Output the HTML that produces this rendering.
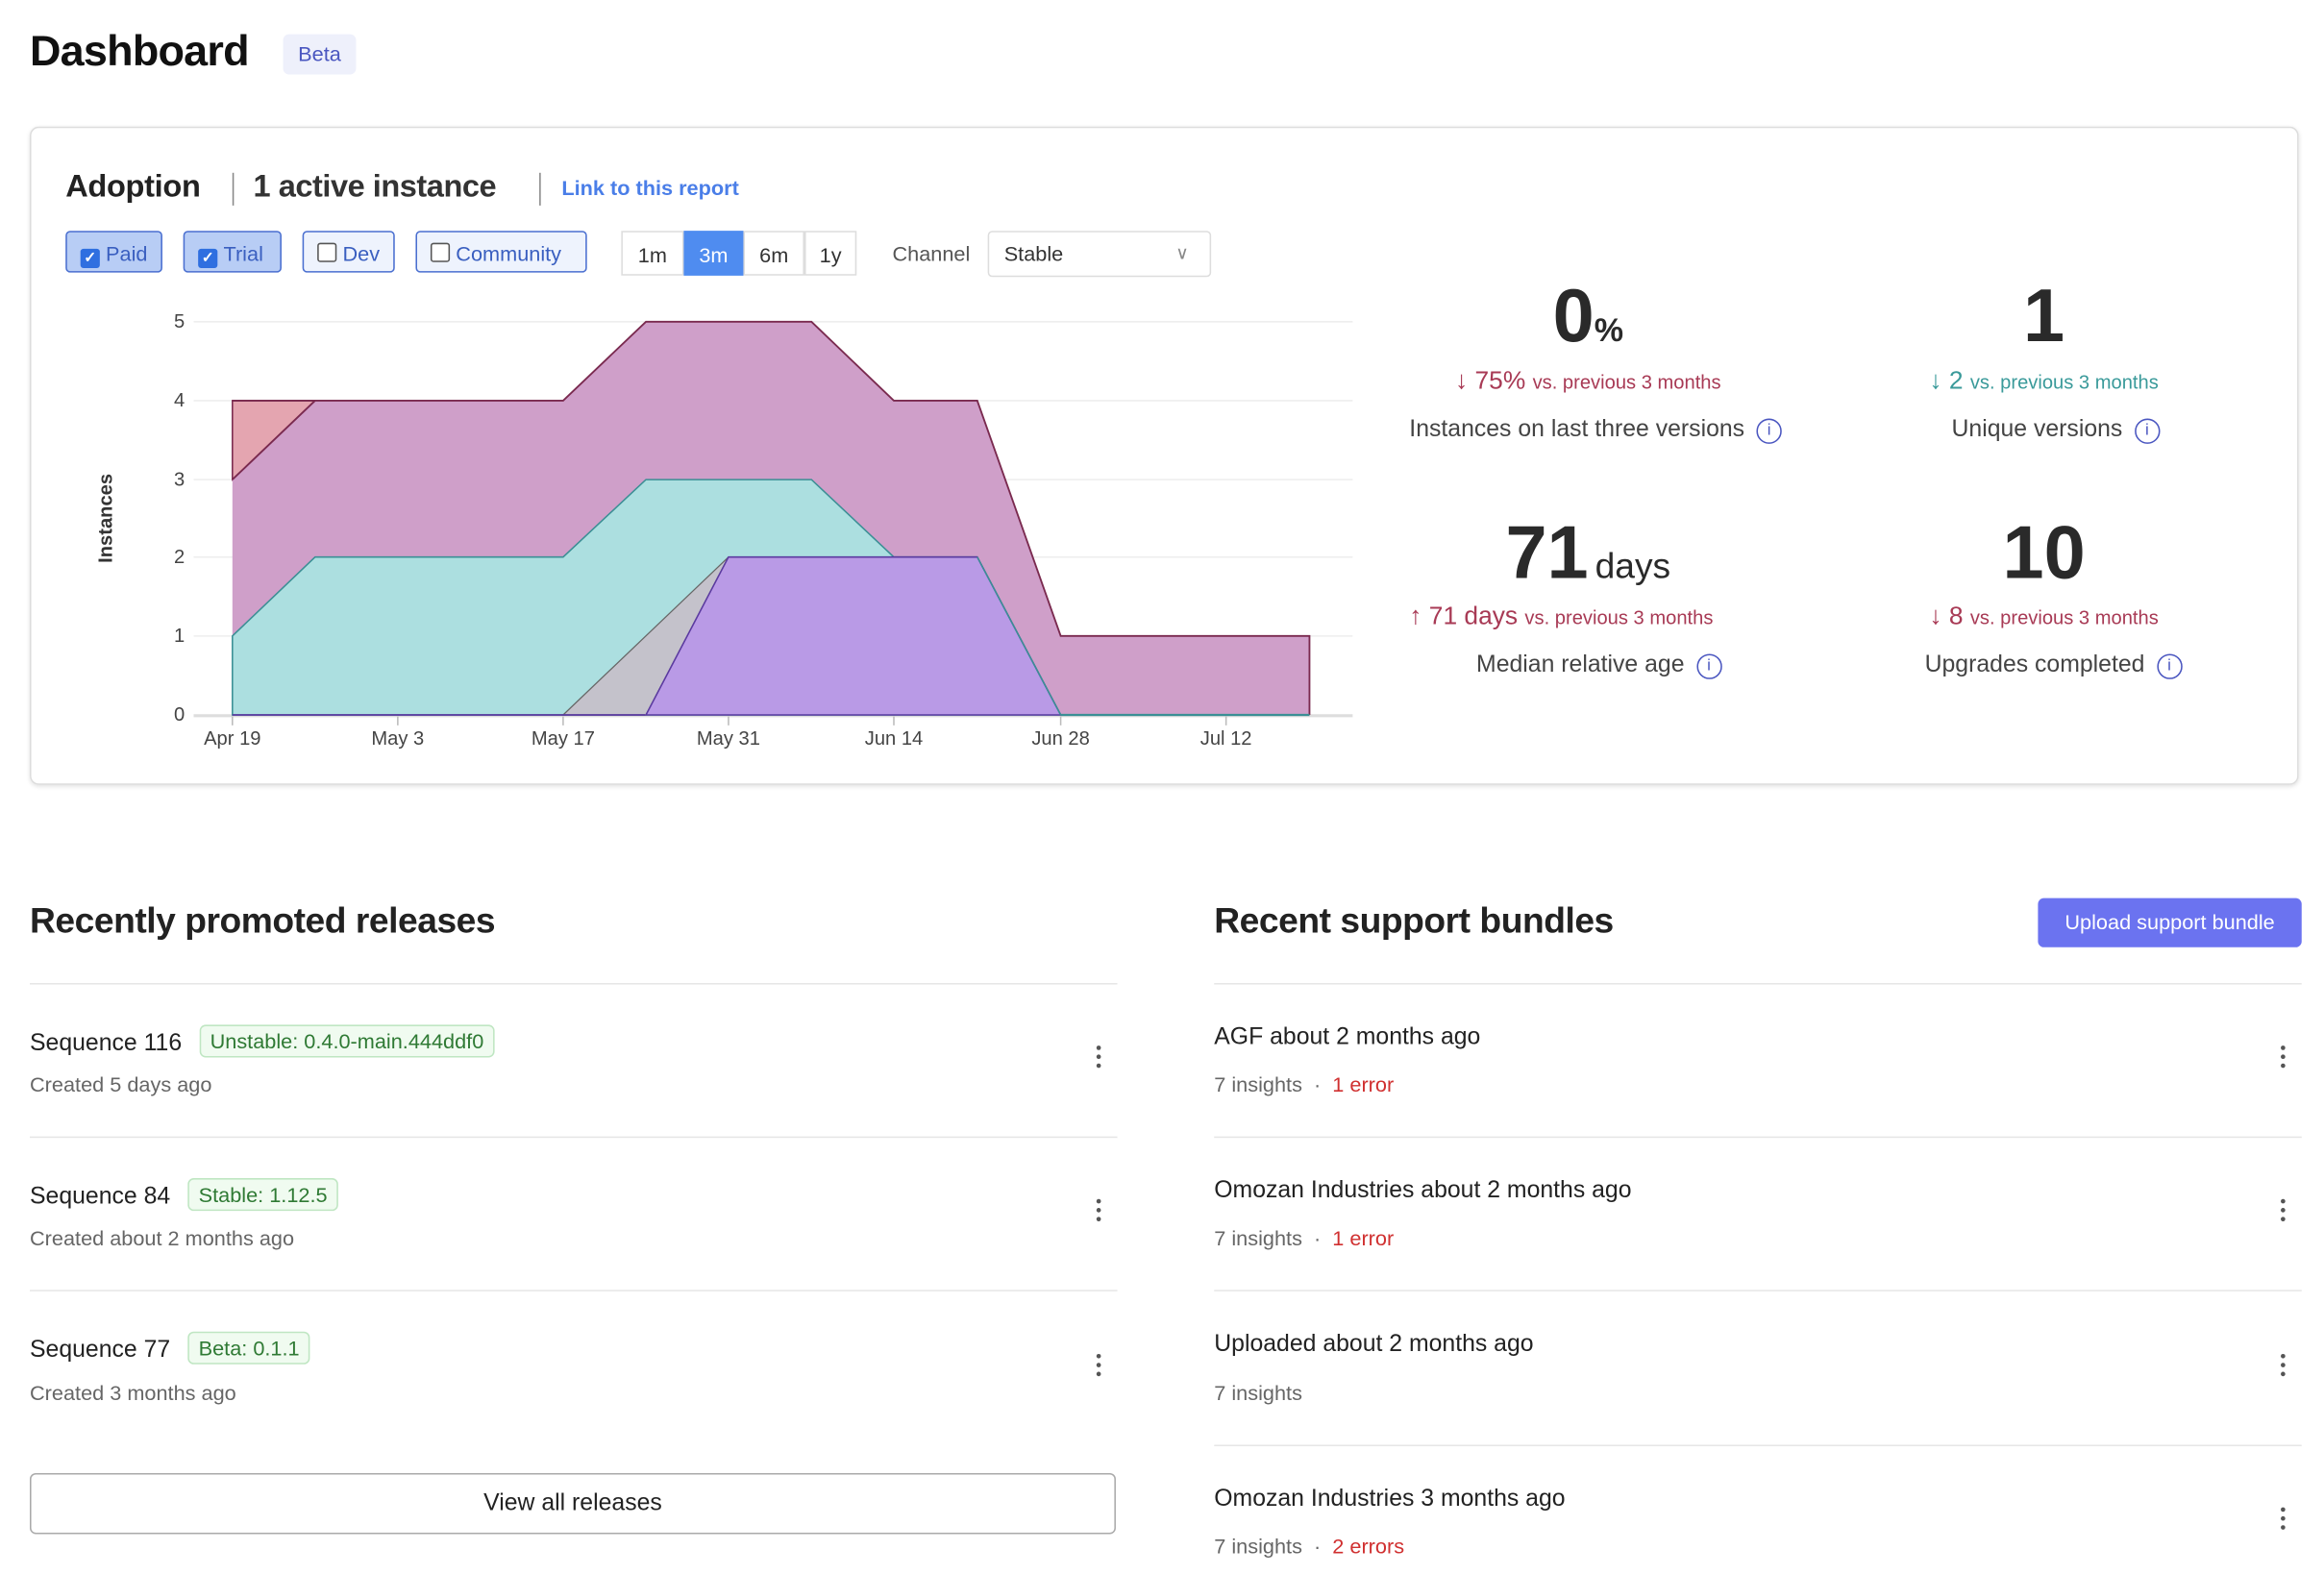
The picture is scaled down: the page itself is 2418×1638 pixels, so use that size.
<!DOCTYPE html>
<html><head><meta charset="utf-8"><style>
html,body{margin:0;padding:0;background:#fff;width:2418px;height:1638px;overflow:hidden}
#w{position:absolute;left:0;top:0;width:1560px;height:1057px;transform:scale(1.55);transform-origin:0 0;font-family:"Liberation Sans",sans-serif;color:#333}
.a{position:absolute;white-space:nowrap}
.cb{position:absolute;top:155px;height:28px;border:1px solid #4a6fd0;border-radius:3px;font-size:14px;line-height:28px;box-sizing:border-box;padding-left:9px;color:#3a5fc0}
.cb i{display:inline-block;width:11px;height:11px;border:1px solid #555;border-radius:2px;vertical-align:-1px;margin-right:4px;background:#fff;font-style:normal;font-size:10px;line-height:11px;text-align:center;color:#fff;font-weight:bold}
.on{background:#b8cdf5}
.on i{background:#2f6fe0;border-color:#2f6fe0}
.off{background:#eef3fd}
.seg{position:absolute;top:155px;height:30px;font-size:14px;line-height:30px;text-align:center;border:1px solid #ddd;box-sizing:border-box}
.big{font-size:50px;color:#2a2a2a;font-weight:bold}
.chg{font-size:17px;color:#a83a55}
.chg small{font-size:13px}
.lbl{font-size:16px;color:#444}
.inf{display:inline-block;width:15px;height:15px;border:1.5px solid #4a56c0;border-radius:50%;font-size:11px;line-height:15px;text-align:center;color:#4a56c0;margin-left:8px;vertical-align:1px}
.h2{font-size:24px;font-weight:bold;color:#222;letter-spacing:-0.3px}
.hr{position:absolute;height:1px;background:#e6e6e6}
.t{font-size:16px;color:#222}
.s{font-size:14px;color:#666}
.bd{display:inline-block;font-size:14px;color:#2f7a34;background:#f0fbf0;border:1px solid #bfe6c2;border-radius:4px;padding:2px 6px;margin-left:12px;vertical-align:1px}
.k{position:absolute;width:4px}
.k b{display:block;width:3px;height:3px;background:#555;border-radius:50%;margin-bottom:3px}
.err{color:#d03030}
</style></head><body><div id="w">
<div class="a" style="left:20px;top:19px;font-size:29px;font-weight:bold;color:#111;letter-spacing:-0.5px">Dashboard</div>
<div class="a" style="left:190px;top:23px;width:49px;height:27px;background:#eef0fb;border-radius:4px;font-size:14px;line-height:27px;text-align:center;color:#4a56c0">Beta</div>

<div class="a" style="left:20px;top:85px;width:1523px;height:442px;border:1px solid #ddd;border-radius:6px;box-shadow:0 1px 3px rgba(0,0,0,.12);box-sizing:border-box"></div>
<div class="a" style="left:44px;top:114px;font-size:21px;color:#222;font-weight:bold;letter-spacing:-0.2px">Adoption</div>
<div class="a" style="left:156px;top:116px;width:1px;height:22px;background:#888"></div>
<div class="a" style="left:170px;top:114px;font-size:21px;color:#333;font-weight:bold;letter-spacing:-0.3px">1 active instance</div>
<div class="a" style="left:362px;top:116px;width:1px;height:22px;background:#888"></div>
<div class="a" style="left:377px;top:118px;font-size:14px;font-weight:bold;color:#4a7ee8">Link to this report</div>

<div class="cb on" style="left:44px;width:65px"><i>✓</i>Paid</div>
<div class="cb on" style="left:123px;width:66px"><i>✓</i>Trial</div>
<div class="cb off" style="left:203px;width:62px"><i></i>Dev</div>
<div class="cb off" style="left:279px;width:115px"><i></i>Community</div>
<div class="seg" style="left:417px;width:42px">1m</div>
<div class="seg" style="left:459px;width:40px;background:#4f8cf0;color:#fff;border-color:#4f8cf0">3m</div>
<div class="seg" style="left:499px;width:41px">6m</div>
<div class="seg" style="left:540px;width:35px">1y</div>
<div class="a" style="left:599px;top:162px;font-size:14px;color:#555">Channel</div>
<div class="a" style="left:663px;top:155px;width:150px;height:31px;border:1px solid #ddd;border-radius:3px;box-sizing:border-box;font-size:14px;line-height:29px;padding-left:10px">Stable<span style="position:absolute;right:14px;top:0;color:#888;font-size:12px">&#8744;</span></div>

<svg class="a" style="left:0;top:0" width="920" height="520" viewBox="0 0 920 520">
<g stroke="#eee" stroke-width="1">
<line x1="130" x2="908" y1="216" y2="216"/><line x1="130" x2="908" y1="269" y2="269"/><line x1="130" x2="908" y1="322" y2="322"/><line x1="130" x2="908" y1="374" y2="374"/><line x1="130" x2="908" y1="427" y2="427"/>
</g>
<line x1="130" x2="908" y1="480.5" y2="480.5" stroke="#ddd" stroke-width="2"/>
<g stroke="#bbb"><line x1="156" x2="156" y1="481" y2="487"/><line x1="267" x2="267" y1="481" y2="487"/><line x1="378" x2="378" y1="481" y2="487"/><line x1="489" x2="489" y1="481" y2="487"/><line x1="600" x2="600" y1="481" y2="487"/><line x1="712" x2="712" y1="481" y2="487"/><line x1="823" x2="823" y1="481" y2="487"/></g>
<g font-size="13" fill="#444" text-anchor="end"><text x="124" y="220">5</text><text x="124" y="273">4</text><text x="124" y="326">3</text><text x="124" y="378">2</text><text x="124" y="431">1</text><text x="124" y="484">0</text></g>
<g font-size="13" fill="#444" text-anchor="middle"><text x="156" y="500">Apr 19</text><text x="267" y="500">May 3</text><text x="378" y="500">May 17</text><text x="489" y="500">May 31</text><text x="600" y="500">Jun 14</text><text x="712" y="500">Jun 28</text><text x="823" y="500">Jul 12</text></g>
<text transform="translate(75,348) rotate(-90)" font-size="13" font-weight="bold" fill="#333" text-anchor="middle">Instances</text>
<polygon points="156,269 211.5,269 156,322" fill="#e4a5b0" stroke="#7a2a4f" stroke-width="1"/>
<polygon points="156,322 211.5,269 378,269 433.6,216 544.7,216 600,269 656,269 712,427 879,427 879,480 712,480 656,374 600,374 544.7,322 433.6,322 378,374 211.5,374 156,427" fill="#cf9fc9" stroke="none"/>
<polyline points="156,322 211.5,269 378,269 433.6,216 544.7,216 600,269 656,269 712,427 879,427 879,480" fill="none" stroke="#7a2a4f" stroke-width="1.2"/>
<polyline points="156,269 211.5,269" fill="none" stroke="#7a2a4f" stroke-width="1.2"/>
<polygon points="156,427 211.5,374 378,374 433.6,322 544.7,322 600,374 656,374 712,480 156,480" fill="#acdfe0" stroke="#3b8f95" stroke-width="1"/>
<polygon points="378,480 489,374 433.6,480" fill="#c4c2cb" stroke="#666" stroke-width="0.8"/>
<polygon points="433.6,480 489,374 656,374 712,480" fill="#b99ae6" stroke="#5b3aa0" stroke-width="1"/>
<line x1="656" y1="374" x2="712" y2="480" stroke="#3b8f95" stroke-width="1"/>
<line x1="712" y1="480" x2="879" y2="480" stroke="#3b8f95" stroke-width="1.5"/>
<line x1="156" y1="480" x2="433" y2="480" stroke="#5b3aa0" stroke-width="1.2"/>
</svg>

<div class="a" style="left:946px;top:183px;width:240px;text-align:center"><span class="big">0</span><span style="font-size:22px;font-weight:bold;color:#2a2a2a">%</span></div>
<div class="a chg" style="left:946px;top:246px;width:240px;text-align:center">&#8595; 75% <small>vs. previous 3 months</small></div>
<div class="a lbl" style="left:946px;top:280px">Instances on last three versions<span class="inf">i</span></div>
<div class="a" style="left:1272px;top:183px;width:200px;text-align:center"><span class="big">1</span></div>
<div class="a chg" style="left:1272px;top:246px;width:200px;text-align:center;color:#3a9a9a">&#8595; 2 <small>vs. previous 3 months</small></div>
<div class="a lbl" style="left:1310px;top:280px">Unique versions<span class="inf">i</span></div>
<div class="a" style="left:946px;top:342px;width:240px;text-align:center"><span class="big">71</span> <span style="font-size:24px;color:#2a2a2a">days</span></div>
<div class="a chg" style="left:946px;top:404px">&#8593; 71 days <small>vs. previous 3 months</small></div>
<div class="a lbl" style="left:991px;top:438px">Median relative age<span class="inf">i</span></div>
<div class="a" style="left:1272px;top:342px;width:200px;text-align:center"><span class="big">10</span></div>
<div class="a chg" style="left:1272px;top:404px;width:200px;text-align:center">&#8595; 8 <small>vs. previous 3 months</small></div>
<div class="a lbl" style="left:1292px;top:438px">Upgrades completed<span class="inf">i</span></div>

<div class="a h2" style="left:20px;top:605px">Recently promoted releases</div>
<div class="hr" style="left:20px;top:660px;width:730px"></div>
<div class="a t" style="left:20px;top:688px">Sequence 116<span class="bd">Unstable: 0.4.0-main.444ddf0</span></div>
<div class="a s" style="left:20px;top:720px">Created 5 days ago</div>
<div class="k" style="left:736px;top:702px"><b></b><b></b><b></b></div>
<div class="hr" style="left:20px;top:763px;width:730px"></div>
<div class="a t" style="left:20px;top:791px">Sequence 84<span class="bd">Stable: 1.12.5</span></div>
<div class="a s" style="left:20px;top:823px">Created about 2 months ago</div>
<div class="k" style="left:736px;top:805px"><b></b><b></b><b></b></div>
<div class="hr" style="left:20px;top:866px;width:730px"></div>
<div class="a t" style="left:20px;top:894px">Sequence 77<span class="bd">Beta: 0.1.1</span></div>
<div class="a s" style="left:20px;top:927px">Created 3 months ago</div>
<div class="k" style="left:736px;top:909px"><b></b><b></b><b></b></div>
<div class="a" style="left:20px;top:989px;width:729px;height:41px;border:1px solid #aaa;border-radius:4px;box-sizing:border-box;text-align:center;line-height:39px;font-size:16px;color:#222">View all releases</div>

<div class="a h2" style="left:815px;top:605px">Recent support bundles</div>
<div class="a" style="left:1368px;top:603px;width:177px;height:33px;background:#6b73f0;border-radius:4px;color:#fff;font-size:14px;line-height:33px;text-align:center">Upload support bundle</div>
<div class="hr" style="left:815px;top:660px;width:730px"></div>
<div class="a t" style="left:815px;top:688px">AGF about 2 months ago</div>
<div class="a s" style="left:815px;top:720px">7 insights &nbsp;·&nbsp; <span class="err">1 error</span></div>
<div class="k" style="left:1531px;top:702px"><b></b><b></b><b></b></div>
<div class="hr" style="left:815px;top:763px;width:730px"></div>
<div class="a t" style="left:815px;top:791px">Omozan Industries about 2 months ago</div>
<div class="a s" style="left:815px;top:823px">7 insights &nbsp;·&nbsp; <span class="err">1 error</span></div>
<div class="k" style="left:1531px;top:805px"><b></b><b></b><b></b></div>
<div class="hr" style="left:815px;top:866px;width:730px"></div>
<div class="a t" style="left:815px;top:894px">Uploaded about 2 months ago</div>
<div class="a s" style="left:815px;top:927px">7 insights</div>
<div class="k" style="left:1531px;top:909px"><b></b><b></b><b></b></div>
<div class="hr" style="left:815px;top:970px;width:730px"></div>
<div class="a t" style="left:815px;top:998px">Omozan Industries 3 months ago</div>
<div class="a s" style="left:815px;top:1030px">7 insights &nbsp;·&nbsp; <span class="err">2 errors</span></div>
<div class="k" style="left:1531px;top:1012px"><b></b><b></b><b></b></div>
</div></body></html>
